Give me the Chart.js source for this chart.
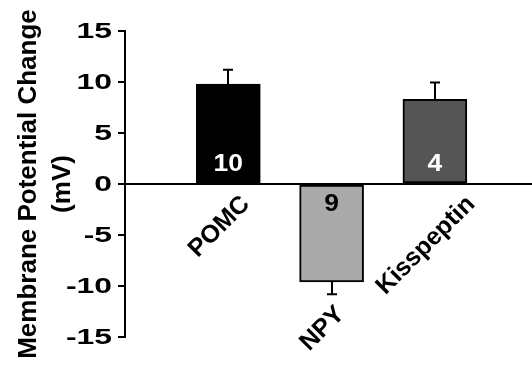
<!DOCTYPE html>
<html><head><meta charset="utf-8">
<script src="https://cdn.jsdelivr.net/npm/chart.js@4"></script>
<style>html,body{margin:0;padding:0;background:#fff}#wrap{width:532px;height:367px}</style>
</head><body><div id="wrap"><canvas id="c" width="532" height="367"></canvas></div>
<script>
const categories = ['POMC', 'NPY', 'Kisspeptin'];
const meanChange = [9.8, -9.6, 8.3];
const semChange = [1.4, 1.2, 1.65];
const cellCounts = ['10', '9', '4'];
const barColors = ['#000000', '#aaaaaa', '#555555'];
const countColors = ['#ffffff', '#000000', '#ffffff'];
const yTicks = [-15, -10, -5, 0, 5, 10, 15];
const yTitle = ['Membrane Potential Change', '(mV)'];

const FONT = "'Liberation Sans', Arial, sans-serif";

const overlay = {
  id: 'overlay',
  afterDatasetsDraw(chart) {
    const ctx = chart.ctx, xs = chart.scales.x, ys = chart.scales.y;
    const zero = ys.getPixelForValue(0);
    ctx.save();
    ctx.strokeStyle = '#000';
    ctx.lineWidth = 2;
    meanChange.forEach((v, i) => {
      const x = Math.round(xs.getPixelForValue(i + 1));
      const dir = v >= 0 ? 1 : -1;
      const y0 = ys.getPixelForValue(v);
      const y1 = ys.getPixelForValue(v + dir * semChange[i]);
      ctx.beginPath();
      ctx.moveTo(x, y0); ctx.lineTo(x, y1);
      ctx.moveTo(x - 5, y1); ctx.lineTo(x + 5, y1);
      ctx.stroke();
    });
    // counts inside bars
    ctx.font = 'bold 23px ' + FONT;
    ctx.textAlign = 'center';
    ctx.textBaseline = 'middle';
    cellCounts.forEach((t, i) => {
      const x = xs.getPixelForValue(i + 1);
      const dir = meanChange[i] >= 0 ? 1 : -1;
      ctx.save();
      ctx.translate(x, zero - dir * 20);
      ctx.scale(1.15, 1);
      ctx.fillStyle = countColors[i];
      ctx.fillText(t, 0, 1);
      ctx.restore();
    });
    // category labels, rotated
    const fs = 25;
    ctx.font = 'bold ' + fs + 'px ' + FONT;
    ctx.fillStyle = '#000';
    categories.forEach((t, i) => {
      const v = meanChange[i];
      const x = xs.getPixelForValue(i + 1);
      const base = v >= 0 ? zero : ys.getPixelForValue(v - semChange[i]);
      const w = ctx.measureText(t).width;
      const h = fs * 0.72;
      const diag = (w + h) / (2 * Math.SQRT2);
      ctx.save();
      ctx.translate(x - 9, base + 10 + diag);
      ctx.rotate(-Math.PI / 4);
      ctx.textAlign = 'center';
      ctx.textBaseline = 'middle';
      ctx.fillText(t, 0, 0);
      ctx.restore();
    });
    ctx.restore();
  },
  afterDraw(chart) {
    const ctx = chart.ctx, ys = chart.scales.y, area = chart.chartArea;
    ctx.save();
    ctx.fillStyle = '#000';
    // tick labels
    ctx.font = 'bold 22px ' + FONT;
    ctx.textAlign = 'right';
    ctx.textBaseline = 'middle';
    yTicks.forEach(t => {
      const y = ys.getPixelForValue(t);
      ctx.save();
      ctx.translate(area.left - 13, y);
      ctx.scale(1.45, 1);
      ctx.fillText(String(t), 0, 1);
      ctx.restore();
    });
    // axis title
    ctx.font = 'bold 26px ' + FONT;
    ctx.textAlign = 'center';
    ctx.textBaseline = 'middle';
    const cy = (area.top + area.bottom) / 2;
    ctx.translate(29, cy);
    ctx.rotate(-Math.PI / 2);
    yTitle.forEach((line, k) => ctx.fillText(line, 0, k * 34));
    ctx.restore();
  }
};

new Chart(document.getElementById('c'), {
  type: 'bar',
  data: {
    datasets: [{
      data: meanChange.map((v, i) => ({ x: i + 1, y: v })),
      backgroundColor: barColors,
      borderColor: '#000',
      borderWidth: 2,
      borderSkipped: false,
      barThickness: 64
    }]
  },
  options: {
    responsive: false,
    animation: false,
    devicePixelRatio: 1,
    layout: { padding: { top: 31, bottom: 30, left: 0, right: 0 } },
    plugins: { legend: { display: false }, tooltip: { enabled: false } },
    scales: {
      x: { type: 'linear', min: 0, max: 3.94, offset: false, display: false },
      y: {
        min: -15, max: 15,
        afterBuildTicks(s) { s.ticks = yTicks.map(v => ({ value: v })); },
        afterFit(s) { s.width = 125; },
        ticks: { display: false, stepSize: 5 },
        border: { display: true, color: '#000', width: 2 },
        grid: {
          drawOnChartArea: true,
          drawTicks: true,
          tickLength: 7,
          tickColor: '#000',
          lineWidth: 2,
          tickWidth: 2,
          color: c => (c.tick && c.tick.value === 0) ? '#000' : 'rgba(0,0,0,0)'
        }
      }
    }
  },
  plugins: [overlay]
});
</script>
</body></html>
